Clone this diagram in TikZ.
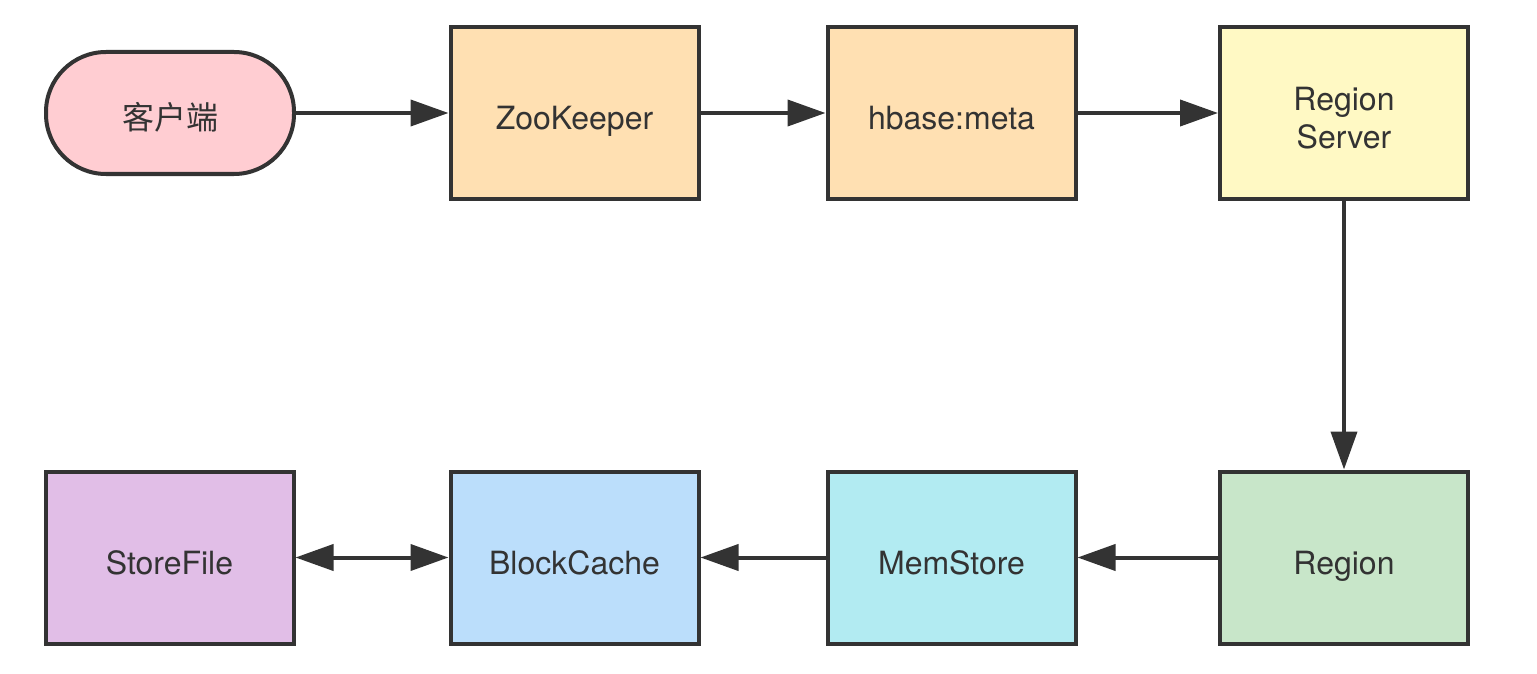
\documentclass[tikz,border=0pt]{standalone}
\usepackage{fontspec}
\setmainfont{TeX Gyre Heros}
\newfontfamily\cjk{Noto Sans CJK SC}
\usetikzlibrary{arrows.meta,positioning}

\definecolor{line}{HTML}{333333}
\definecolor{pinkfill}{HTML}{FFCDD2}
\definecolor{orangefill}{HTML}{FFE0B2}
\definecolor{yellowfill}{HTML}{FFF9C4}
\definecolor{purplefill}{HTML}{E1BEE7}
\definecolor{bluefill}{HTML}{BBDEFB}
\definecolor{cyanfill}{HTML}{B2EBF2}
\definecolor{greenfill}{HTML}{C8E6C9}

\begin{document}
\begin{tikzpicture}[x=0.5pt,y=-0.5pt,
    box/.style={draw=line,line width=2pt,minimum width=124pt,minimum height=86pt,
      align=center,font=\fontsize{16}{19}\selectfont,text=line,inner sep=2pt,
      text height=16.5pt,text depth=0pt},
    twoline/.style={box,text height=35.5pt},
    client/.style={box,minimum height=61pt,rounded corners=30pt},
    flow/.style={-{Triangle[length=19pt,width=13pt]},draw=line,line width=2pt}]
  \useasboundingbox (0,0) rectangle (1537,674);

  % top row
  \node[client,fill=pinkfill]   (cl) at (170,113)    {\cjk 客户端};
  \node[box,fill=orangefill]    (zk) at (574.5,113)  {ZooKeeper};
  \node[box,fill=orangefill]    (hm) at (951.5,113)  {hbase:meta};
  \node[twoline,fill=yellowfill] (rs) at (1344,113)  {Region\\Server};

  % bottom row
  \node[box,fill=purplefill]    (sf) at (169.5,557.5) {StoreFile};
  \node[box,fill=bluefill]      (bc) at (574.5,557.5) {BlockCache};
  \node[box,fill=cyanfill]      (ms) at (951.5,557.5) {MemStore};
  \node[box,fill=greenfill]     (rg) at (1344,557.5)  {Region};

  \draw[flow] (cl) -- (zk);
  \draw[flow] (zk) -- (hm);
  \draw[flow] (hm) -- (rs);
  \draw[flow] (rs) -- (rg);
  \draw[flow] (rg) -- (ms);
  \draw[flow] (ms) -- (bc);
  \draw[flow,{Triangle[length=19pt,width=13pt]}-{Triangle[length=19pt,width=13pt]}] (sf) -- (bc);
\end{tikzpicture}
\end{document}
